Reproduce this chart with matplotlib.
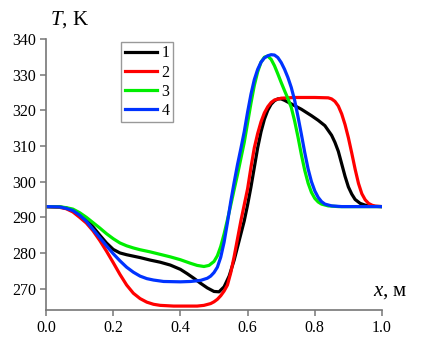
import numpy as np
import matplotlib
matplotlib.use('Agg')
import matplotlib.pyplot as plt

plt.rcParams['font.family'] = ['Liberation Serif', 'DejaVu Serif']
plt.rcParams['mathtext.fontset'] = 'custom'
plt.rcParams['mathtext.it'] = 'Liberation Serif:italic'
plt.rcParams['mathtext.rm'] = 'Liberation Serif'

# curve 1 (black)
x1 = [0, 0.04, 0.06, 0.08, 0.10, 0.12, 0.14, 0.16, 0.18, 0.20, 0.22, 0.24, 0.26, 0.28,
      0.31, 0.34, 0.37, 0.40, 0.42, 0.44, 0.46, 0.48, 0.50, 0.515, 0.53, 0.545, 0.56, 0.575,
      0.59, 0.60, 0.61, 0.62, 0.63, 0.64, 0.65, 0.66, 0.67, 0.68, 0.69, 0.70, 0.71, 0.73,
      0.76, 0.79, 0.81, 0.83, 0.85, 0.86, 0.87, 0.88, 0.89, 0.90, 0.91, 0.92, 0.935, 0.95,
      0.97, 1.0]
t1 = [293, 292.9, 292.6, 292.0, 290.8, 289.3, 287.3, 285.0, 282.8, 281.0, 280.0, 279.5, 279.1, 278.7,
      278.0, 277.4, 276.6, 275.4, 274.2, 272.9, 271.5, 270.2, 269.2, 269.1, 270.5, 273.5, 278, 283.5,
      289, 293.5, 298.5, 304, 309.5, 314, 317.5, 320, 321.7, 322.7, 323.2, 323.2, 322.8, 321.8,
      320.3, 318.5, 317.2, 315.7, 313, 311, 308.5, 305, 301.5, 298.5, 296.5, 295.0, 293.9, 293.4,
      293.1, 293]

# curve 2 (red)
x2 = [0, 0.04, 0.06, 0.08, 0.10, 0.12, 0.14, 0.16, 0.18, 0.20, 0.22, 0.24, 0.26, 0.28,
      0.30, 0.32, 0.34, 0.38, 0.42, 0.45, 0.47, 0.49, 0.50, 0.51, 0.52, 0.53, 0.54, 0.55,
      0.56, 0.57, 0.58, 0.59, 0.60, 0.61, 0.62, 0.63, 0.64, 0.65, 0.66, 0.67, 0.68, 0.70,
      0.74, 0.80, 0.84, 0.85, 0.86, 0.87, 0.88, 0.89, 0.90, 0.91, 0.92, 0.93, 0.94, 0.95,
      0.96, 0.97, 0.98, 1.0]
t2 = [293, 292.8, 292.4, 291.5, 290.0, 288.4, 286.2, 283.5, 280.5, 277.3, 274.0, 271.0, 268.7, 267.2,
      266.2, 265.6, 265.3, 265.1, 265.1, 265.1, 265.3, 265.8, 266.3, 267.0, 268.0, 269.3, 271.0, 274.5,
      279, 284, 289, 293.5, 298.0, 304, 309.5, 313.5, 316.8, 319.3, 321, 322.2, 322.9, 323.4,
      323.6, 323.6, 323.5, 323.2, 322.5, 321.2, 319.0, 316.0, 312.3, 308.0, 303.5, 299.5, 296.6, 294.9,
      293.9, 293.4, 293.1, 293]

# curve 3 (green)
x3 = [0, 0.04, 0.06, 0.08, 0.10, 0.12, 0.14, 0.16, 0.18, 0.20, 0.22, 0.24, 0.26, 0.28,
      0.31, 0.34, 0.37, 0.40, 0.43, 0.45, 0.47, 0.485, 0.50, 0.51, 0.52, 0.53, 0.54, 0.55,
      0.56, 0.57, 0.58, 0.59, 0.60, 0.61, 0.62, 0.63, 0.64, 0.65, 0.66, 0.67, 0.68, 0.69,
      0.70, 0.71, 0.72, 0.73, 0.74, 0.75, 0.76, 0.77, 0.78, 0.79, 0.80, 0.81, 0.82, 0.84,
      0.87, 1.0]
t3 = [293, 292.95, 292.7, 292.3, 291.3, 290.0, 288.5, 287.0, 285.4, 284.0, 282.8, 282.0, 281.4, 280.9,
      280.3, 279.6, 278.9, 278.1, 277.1, 276.5, 276.2, 276.5, 277.6, 279.2, 281.8, 285.3, 289.3, 293.5,
      297.8, 302, 306.5, 311, 316.5, 322, 327, 330.8, 333.5, 334.9, 335.2, 334.3, 332.5, 330.2,
      327.8, 325.5, 323.3, 320.8, 317, 312.5, 307.6, 303.2, 299.6, 297.0, 295.3, 294.3, 293.7, 293.2,
      293.0, 293]

# curve 4 (blue)
x4 = [0, 0.04, 0.06, 0.08, 0.10, 0.12, 0.14, 0.16, 0.18, 0.20, 0.22, 0.24, 0.26, 0.28,
      0.30, 0.32, 0.35, 0.40, 0.43, 0.46, 0.48, 0.49, 0.50, 0.51, 0.52, 0.53, 0.54, 0.55,
      0.56, 0.57, 0.58, 0.59, 0.60, 0.61, 0.62, 0.63, 0.64, 0.65, 0.66, 0.67, 0.68, 0.69,
      0.70, 0.71, 0.72, 0.73, 0.74, 0.75, 0.76, 0.77, 0.78, 0.79, 0.80, 0.81, 0.82, 0.83,
      0.85, 0.88, 1.0]
t4 = [293, 292.9, 292.5, 291.9, 290.6, 288.9, 286.6, 284.3, 282.0, 279.8, 277.8, 276.0, 274.6, 273.5,
      272.8, 272.4, 272.0, 271.9, 272.0, 272.3, 272.9, 273.5, 274.5, 276.0, 278.8, 283, 288.5, 294.5,
      299.8, 304.8, 309.3, 314, 319.5, 324.5, 328.6, 331.5, 333.5, 334.7, 335.3, 335.6, 335.5, 334.8,
      333.4, 331.5, 329.2, 326.4, 322.8, 318.2, 313.3, 308.2, 303.6, 300.0, 297.4, 295.6, 294.4, 293.7,
      293.2, 293.0, 293]

labels = ['1', '2', '3', '4']
colors = ['black', '#ff0000', '#00ee00', '#0033ff']

fig = plt.figure(figsize=(4.48, 3.6), dpi=100, facecolor='white')
ax = fig.add_axes([46 / 448, 50 / 360, 336 / 448, 271 / 360])

for xs, ts, lab, c in zip([x1, x2, x3, x4], [t1, t2, t3, t4], labels, colors):
    ax.plot(xs, ts, color=c, lw=2.3, label=lab, solid_joinstyle='round')

ax.set_xlim(0, 1.0)
ax.set_ylim(264, 340)
ax.set_xticks(np.arange(0, 1.01, 0.2))
ax.set_yticks(np.arange(270, 341, 10))
ax.xaxis.set_major_formatter(matplotlib.ticker.FormatStrFormatter('%.1f'))

for s in ['top', 'right']:
    ax.spines[s].set_visible(False)
for s in ['left', 'bottom']:
    ax.spines[s].set_color('#777777')
    ax.spines[s].set_linewidth(1.2)
ax.tick_params(direction='out', length=4, width=1.1, color='#777777',
               labelsize=11.5, labelcolor='black', pad=3)

ax.text(0.012, 1.035, '$T$, K', transform=ax.transAxes, fontsize=15,
        ha='left', va='bottom')
ax.text(0.972, 0.035, '$x$, м', transform=ax.transAxes, fontsize=15,
        ha='left', va='bottom')

leg = ax.legend(loc='upper left', bbox_to_anchor=(0.215, 1.0), fontsize=11.5,
                handlelength=2.0, handletextpad=0.3, labelspacing=0.2,
                borderpad=0.2, borderaxespad=0.2, fancybox=False, framealpha=1,
                edgecolor='#999999')
leg.get_frame().set_linewidth(1.0)

fig.savefig('out.png', dpi=100)
